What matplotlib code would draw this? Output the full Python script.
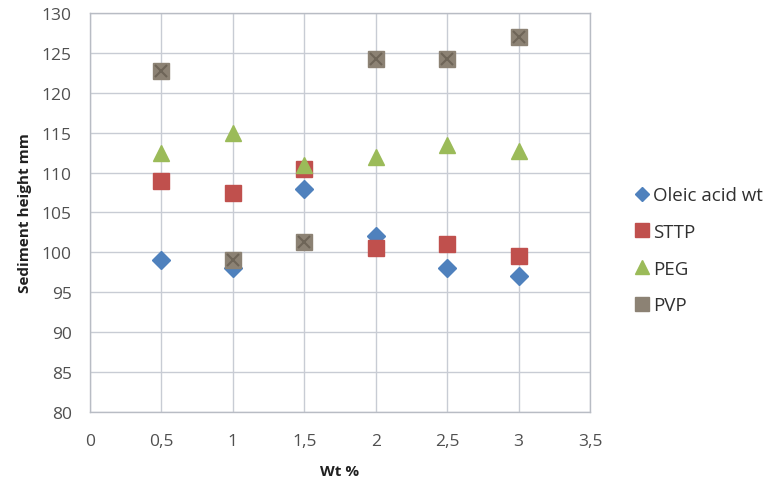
import matplotlib
matplotlib.use("Agg")
import matplotlib.pyplot as plt
from matplotlib.lines import Line2D

plt.rcParams['font.family'] = ['Open Sans', 'DejaVu Sans']

wt = [0.5, 1.0, 1.5, 2.0, 2.5, 3.0]
oleic = [99.0, 98.0, 108.0, 102.0, 98.0, 97.0]
sttp = [109.0, 107.5, 110.5, 100.5, 101.0, 99.5]
peg = [112.5, 115.0, 111.0, 112.0, 113.5, 112.7]
pvp = [122.7, 99.0, 101.3, 124.2, 124.2, 127.0]

xticks = [0, 0.5, 1, 1.5, 2, 2.5, 3, 3.5]
xticklabels = ['0', '0,5', '1', '1,5', '2', '2,5', '3', '3,5']
yticks = list(range(80, 131, 5))
labels = ['Oleic acid wt', 'STTP', 'PEG', 'PVP']

c_ole = '#4F81BD'
c_sttp = '#C0504D'
c_peg = '#9BBB59'
c_pvp = '#8C8274'

fig = plt.figure(figsize=(7.65, 4.85), dpi=100)
ax = fig.add_axes([0.1176, 0.1485, 0.6536, 0.8226])

ax.plot(wt, oleic, 'D', color=c_ole, ms=9, zorder=3)
ax.plot(wt, sttp, 's', color=c_sttp, ms=11, zorder=3)
ax.plot(wt, peg, '^', color=c_peg, ms=12, zorder=3)
ax.plot(wt, pvp, 's', color=c_pvp, ms=11, zorder=3)
ax.plot(wt, pvp, 'x', color='#6E6558', ms=9, mew=1.5, zorder=4)

ax.set_xlim(0, 3.5)
ax.set_ylim(80, 130)
ax.set_xticks(xticks)
ax.set_xticklabels(xticklabels)
ax.set_yticks(yticks)
ax.grid(True, color='#C8CCD4', linewidth=1.0)
ax.set_axisbelow(True)
for s in ax.spines.values():
    s.set_color('#B8BCC4')
    s.set_linewidth(1.0)
ax.tick_params(length=0, labelsize=12.5, colors='#505050')
ax.tick_params(axis='x', pad=15)
ax.tick_params(axis='y', pad=13)

ax.set_xlabel('Wt %', fontsize=11, fontweight='bold', color='#202020', labelpad=11)
ax.set_ylabel('Sediment height mm', fontsize=11, fontweight='bold', color='#202020', labelpad=7)

handles = [
    Line2D([], [], marker='D', color=c_ole, ls='', ms=7),
    Line2D([], [], marker='s', color=c_sttp, ls='', ms=10),
    Line2D([], [], marker='^', color=c_peg, ls='', ms=10),
    Line2D([], [], marker='s', color=c_pvp, ls='', ms=10),
]
fig.legend(handles, labels, loc='center left', bbox_to_anchor=(0.807, 0.482),
           frameon=False, fontsize=13.5, labelspacing=1.0, handletextpad=0.2,
           handlelength=0.8, labelcolor='#303030')

fig.savefig('out.png', dpi=100)
